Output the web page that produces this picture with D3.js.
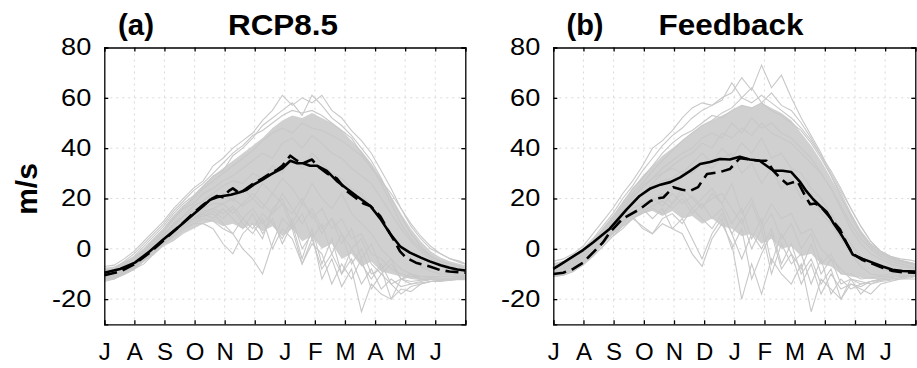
<!DOCTYPE html>
<html>
<head>
<meta charset="utf-8">
<script src="https://cdn.jsdelivr.net/npm/d3@7/dist/d3.min.js"></script>
<style>
  body { margin: 0; background: #fff; }
  svg { display: block; font-family: "Liberation Sans", Arial, Helvetica, sans-serif; }
</style>
</head>
<body>
<div id="chart"></div>
<script>
// x axis: days since 1 July, twelve equal "months"
const monthStarts = [0, 30.4, 60.8, 91.3, 121.7, 152.1, 182.5, 212.9, 243.3, 273.8, 304.2, 334.6, 365];
const monthLabels = ['J', 'A', 'S', 'O', 'N', 'D', 'J', 'F', 'M', 'A', 'M', 'J', ''];
const yTicks = [-20, 0, 20, 40, 60, 80];

// common day grid for the ensemble members
const gridDays = [0, 10, 20, 30, 40, 50, 60, 70, 80, 90, 100, 110, 120, 130, 140, 150, 160, 170, 180,
  190, 200, 210, 220, 230, 240, 250, 260, 270, 280, 290, 300, 310, 320, 330, 340, 350, 360, 365];

// ---- panel (a) RCP8.5 ----
const coreLowA = [-12.5, -12, -10.5, -8.5, -5, -2.5, 1, 3, 6, 8, 10, 11, 9, 10, 8, 10, 7, 9, 5,
  8, 3, 5, 0, 2, -4, -2, -7, -5, -9, -10, -11, -12, -12.5, -12.5, -12.5, -12.5, -12.5, -12.5];
const coreHighA = [-7.5, -7, -5, -3, 0, 4, 8, 13, 17, 21, 25, 29, 32, 35, 38, 41, 44, 48, 51,
  53, 52, 54, 52, 50, 47, 43, 39, 34, 28, 21, 14, 8, 3, -1, -3.5, -5, -6, -6.5];
const membersA = [
  [-7, -6.5, -4, -1, 3, 7, 11, 16, 20, 24, 27, 33, 36, 40, 43, 46, 51, 55, 61, 57, 60, 58, 61, 55, 52, 47, 43, 38, 31, 24, 16, 9, 4, 0, -2, -4, -5, -6],
  [-9, -8, -6, -3, 1, 5, 9, 14, 18, 21, 25, 29, 31, 37, 40, 44, 49, 52, 55, 58, 53, 61, 57, 52, 49, 45, 40, 35, 28, 20, 13, 6, 1, -3, -5, -6, -7, -8],
  [-13, -12, -10, -8, -5, -1, 2, 5, 8, 10, 12, 11, 8, 6, 0, -4, -10, 2, 12, 8, -6, 4, -8, -2, -10, -4, -14, -8, -16, -12, -15, -14, -13.5, -13, -13, -12.5, -12, -12],
  [-12, -11, -9, -7, -4, 0, 3, 6, 9, 11, 13, 14, 10, 6, 12, 8, 14, 10, 4, 12, 0, 6, -12, -4, -15, -8, -25, -14, -18, -20, -16, -17, -14, -13, -12.5, -12, -12, -12],
  [-11, -10, -9, -7, -3, 1, 4, 8, 11, 14, 16, 18, 18, 20, 17, 20, 16, 22, 18, 14, 20, 12, 16, 8, 12, 4, 6, -2, -4, -8, -10, -11, -11, -11.5, -11, -11, -11.5, -11.5],
  [-10, -9, -7, -5, -1, 3, 7, 12, 16, 18, 22, 24, 27, 29, 32, 35, 38, 36, 42, 44, 40, 45, 42, 38, 36, 32, 29, 26, 20, 14, 8, 3, -1, -4, -6, -7, -8, -8.5],
  [-11.5, -11, -9.5, -7.5, -4, 0, 4, 7, 10, 12, 15, 16, 14, 17, 12, 16, 10, 14, 18, 8, 14, 4, 10, -2, 6, -6, 0, -10, -8, -20, -12, -14, -13, -12, -12, -12, -11.5, -11.5],
  [-12.5, -12, -10, -8, -6, -2, 2, 5, 8, 10, 10, 8, 2, -2, 6, 10, 4, 16, 20, 10, 18, 14, 6, 12, 2, 8, -4, 2, -8, -4, -12, -10, -12, -12, -12, -12, -12, -12],
  [-8.5, -8, -5, -2, 2, 6, 10, 15, 19, 23, 26, 30, 34, 38, 41, 45, 47, 50, 53, 55, 54, 55, 53, 50, 47, 44, 38, 33, 26, 18, 10, 4, 0, -3, -5, -6, -7, -7.5],
  [-12, -11.5, -10, -8, -4, 0, 3, 7, 10, 12, 14, 12, 16, 12, 8, 14, 6, 12, 2, 10, -4, 8, -6, 4, -10, 0, -6, -12, -6, -14, -12, -13, -12.5, -12, -12, -12, -12, -12],
  [-11, -10.5, -8.5, -6, -2, 2, 6, 9, 13, 15, 18, 20, 22, 19, 24, 20, 26, 22, 28, 24, 18, 26, 20, 16, 22, 14, 10, 6, 0, -4, -8, -10, -11, -11, -11, -11, -11, -11],
  [-10.5, -10, -8, -5.5, -2, 2, 5, 10, 13, 17, 19, 22, 25, 27, 26, 30, 28, 33, 30, 36, 32, 38, 34, 30, 28, 24, 22, 16, 12, 6, 0, -4, -7, -9, -10, -10, -10.5, -10.5],
  [-12, -11.5, -10, -7.5, -4.5, -1, 2, 6, 9, 12, 13, 15, 12, 16, 10, 6, 12, 0, 8, 4, -6, 2, -2, -14, -6, -12, -4, -16, -10, -14, -18, -15, -14, -13, -12.5, -12.5, -12, -12],
  [-9, -8.5, -6.5, -4, 0, 4, 8, 13, 17, 20, 24, 27, 30, 33, 36, 39, 43, 46, 48, 46, 50, 48, 47, 45, 43, 40, 37, 32, 27, 22, 16, 10, 5, 1, -2, -4, -5.5, -6],
  [-12, -11, -9.5, -7, -3.5, 0, 3, 6, 9, 12, 14, 16, 18, 14, 18, 22, 18, 14, 22, 16, 10, 16, 8, 12, 6, 0, 4, -6, -10, -6, -12, -11, -12, -13, -12.5, -12, -12, -12]
];
const meanDaysA = [0, 16, 31, 46, 59, 76, 91, 100, 107, 114, 120, 128, 137, 144, 151, 160, 168, 175, 180, 188,
  195, 201, 208, 215, 225, 235, 245, 255, 262, 269, 279, 289, 299, 309, 320, 329, 340, 349, 357, 365];
const meanA = [-9.5, -8, -5.5, -1, 3.5, 9, 14, 17, 19.5, 20.5, 21, 21.5, 22.5, 23.5, 25.5, 27.5, 29.5, 31, 32, 35,
  34, 34, 33, 33, 31, 27, 24, 21, 19, 17, 12, 6, 1, -1.5, -3.5, -5, -6.5, -7.5, -8.2, -8.6];
const dashDaysA = [0, 16, 31, 46, 59, 76, 91, 100, 107, 114, 120, 126, 130, 137, 144, 151, 160, 168, 175, 180, 188,
  195, 201, 210, 215, 225, 235, 245, 255, 262, 269, 279, 286, 292, 299, 305, 315, 329, 340, 349, 365];
const dashA = [-10.5, -9, -6, -1.5, 3, 9, 14.5, 17.5, 19.5, 21, 20.5, 23, 24, 22, 24, 26, 28, 30, 31.5, 33, 37,
  35, 34, 35.5, 33, 30, 28, 23, 20, 18, 17, 13, 8, 4, -1, -3.5, -5.5, -7, -8.5, -9, -9.5];

// ---- panel (b) Feedback ----
const coreLowB = [-11, -10, -8, -5.5, -2, 2, 6, 9, 12, 14, 15, 13, 15, 12, 13, 10, 12, 9, 8,
  5, 6, 2, 4, 0, 1, -3, -2, -6, -7, -10, -11, -11.5, -12, -12, -11.5, -11, -11, -11];
const coreHighB = [-6, -5, -3, 0, 4, 8, 13, 19, 24, 29, 33, 37, 40, 43, 46, 49, 51, 53, 55,
  57, 56, 58, 56, 54, 51, 46, 41, 35, 28, 21, 14, 7, 2, -1, -3, -4.5, -5.5, -6];
const membersB = [
  [-5, -4, -2, 1, 6, 11, 16, 22, 27, 33, 40, 43, 47, 52, 56, 58, 57, 60, 62, 68, 63, 73, 64, 69, 60, 52, 45, 38, 30, 23, 16, 9, 3, -1, -3, -4, -4.5, -5],
  [-6, -5, -3, 0, 4, 9, 14, 20, 25, 31, 36, 41, 45, 48, 52, 55, 57, 59, 66, 60, 64, 58, 62, 57, 55, 50, 44, 37, 29, 21, 13, 6, 1, -2, -4, -5, -5.5, -6],
  [-11, -10, -8.5, -6, -2, 2, 6, 9, 12, 9, 6, 10, 8, 6, -2, -7, 4, 10, 2, -20, -6, -18, -4, -10, -14, -6, -25, -12, -16, -20, -14, -16, -18, -14, -13, -12, -12, -12],
  [-10.5, -9.5, -8, -5, -1, 3, 7, 11, 13, 8, 6, 12, 14, 10, 16, 12, 8, 14, 6, -4, 6, 0, 8, -6, 2, -10, -4, -14, -8, -20, -12, -18, -14, -13, -12.5, -12, -11.5, -11],
  [-10, -9, -7, -4, 0, 4, 8, 12, 16, 18, 20, 17, 22, 18, 21, 17, 20, 22, 16, 10, 18, 8, 14, 4, 10, 0, 6, -6, -2, -10, -10, -12, -11.5, -11, -11, -10.5, -10.5, -10.5],
  [-8, -7, -5, -2, 2, 6, 11, 16, 21, 24, 28, 30, 33, 36, 38, 42, 40, 46, 44, 48, 45, 50, 46, 44, 42, 38, 34, 30, 24, 17, 10, 4, 0, -3, -5, -6, -7, -7.5],
  [-11, -10.5, -9, -6.5, -3, 1, 5, 9, 12, 15, 17, 19, 16, 20, 14, 18, 12, 16, 6, 12, 0, 8, -10, 2, -6, -2, -14, -4, -18, -12, -16, -14, -13, -12, -12, -11.5, -11, -11],
  [-9, -8, -6, -3, 1, 5, 9, 13, 18, 22, 25, 27, 28, 31, 30, 34, 32, 36, 38, 30, 34, 26, 32, 24, 28, 20, 22, 14, 10, 4, -2, -7, -10, -10.5, -10, -9.5, -9.5, -9.5],
  [-7, -6, -4, -1, 3, 8, 13, 18, 24, 28, 33, 38, 42, 45, 47, 50, 53, 52, 55, 57, 56, 58, 55, 53, 50, 47, 42, 36, 29, 22, 14, 7, 2, -1, -3.5, -5, -6, -6.5],
  [-11, -10, -8, -5, -1, 3, 7, 11, 14, 17, 19, 22, 18, 24, 20, 16, 22, 18, 10, 16, 4, 12, -6, 6, -2, -8, 2, -10, -4, -14, -12, -14, -13, -12, -11.5, -11, -11, -11],
  [-9.5, -8.5, -6.5, -3.5, 0, 4, 9, 14, 19, 22, 26, 30, 32, 30, 34, 38, 34, 40, 36, 42, 38, 44, 36, 38, 32, 30, 24, 20, 14, 8, 2, -3, -6, -8, -9, -9, -9.5, -9.5],
  [-7.5, -6.5, -4.5, -1.5, 2.5, 7, 12, 17, 22, 26, 31, 35, 39, 43, 46, 49, 51, 54, 56, 60, 58, 61, 58, 55, 52, 48, 43, 37, 31, 24, 16, 9, 3, -1, -3, -4.5, -5.5, -6],
  [-10.5, -10, -8, -5.5, -2, 2, 6, 10, 14, 16, 12, 16, 8, 12, 4, -4, 6, 12, 0, 8, -12, -2, 6, -8, -2, -14, -6, -18, -10, -16, -14, -15, -13, -12.5, -12, -11.5, -11, -11],
  [-8.5, -7.5, -5.5, -2.5, 1.5, 6, 10, 15, 20, 25, 28, 32, 35, 38, 40, 44, 46, 44, 50, 46, 52, 48, 50, 46, 44, 40, 36, 30, 24, 16, 8, 2, -2, -4, -6, -7, -7.5, -8],
  [-11, -10.5, -9, -6, -2.5, 1, 5, 8, 12, 14, 16, 14, 18, 22, 16, 20, 24, 18, 26, 14, 20, 10, 18, 12, 14, 6, 8, 0, -4, -8, -12, -13, -14, -12.5, -12, -11.5, -11, -11]
];
const meanDaysB = [0, 7, 20, 30, 40, 57, 74, 87, 98, 108, 118, 128, 138, 148, 158, 168, 178, 188, 198, 208,
  215, 222, 231, 240, 249, 255, 262, 269, 276, 282, 289, 296, 302, 312, 322, 332, 342, 352, 365];
const meanB = [-8, -6.3, -3, -0.5, 2.5, 8, 15.7, 21, 24, 25.5, 26.5, 28.4, 31, 33.7, 34.5, 35.7, 35.5, 36.6, 35.5, 35,
  33, 31, 31, 30.5, 26.5, 23, 19.7, 17, 14.5, 10.5, 6.5, 2, -2.3, -4, -5.5, -7, -8.3, -8.8, -9];
const dashDaysB = [0, 10, 20, 30, 40, 50, 57, 70, 87, 98, 104, 111, 121, 130, 138, 146, 150, 155, 168, 178, 188,
  198, 208, 215, 222, 229, 236, 246, 250, 254, 259, 264, 269, 279, 284, 289, 296, 302, 312, 322, 332, 342, 352, 365];
const dashB = [-10, -9.5, -8, -5.5, -1.5, 2.5, 6.5, 12, 15.7, 19, 20, 20.4, 24.5, 23.5, 23, 24.5, 27, 29.7, 30.5, 31.7, 36,
  35.5, 35, 35, 31, 28, 25.7, 27, 24, 21, 17.7, 18, 17, 12.5, 10, 7.7, 2, -2, -4.5, -6, -7.5, -8.8, -9.3, -9.5];

const width = 917, height = 368;
const svg = d3.select('#chart').append('svg').attr('width', width).attr('height', height);

// the original figure uses a slightly wider face than Liberation Sans
function stretch(sel, k) {
  sel.each(function () {
    const len = this.getComputedTextLength();
    d3.select(this).attr('textLength', len * k).attr('lengthAdjust', 'spacingAndGlyphs');
  });
}

function drawPanel(p) {
  const x = d3.scaleLinear().domain([0, 365]).range([p.left, p.right]);
  const y = d3.scaleLinear().domain([-30, 80]).range([324.3, 47.5]);
  const g = svg.append('g');

  // dotted grid
  g.append('g').selectAll('line').data(monthStarts.slice(1, -1)).join('line')
    .attr('x1', d => x(d)).attr('x2', d => x(d))
    .attr('y1', y(80)).attr('y2', y(-30))
    .attr('stroke', '#d8d8d8').attr('stroke-width', 1).attr('stroke-dasharray', '2,4');
  g.append('g').selectAll('line').data(yTicks.slice(0, -1)).join('line')
    .attr('x1', x(0)).attr('x2', x(365))
    .attr('y1', d => y(d)).attr('y2', d => y(d))
    .attr('stroke', '#d8d8d8').attr('stroke-width', 1).attr('stroke-dasharray', '2,4');

  // ensemble spread
  const area = d3.area().x((d, i) => x(gridDays[i])).y0(d => y(d[0])).y1(d => y(d[1]));
  g.append('path')
    .datum(p.coreLow.map((v, i) => [v, p.coreHigh[i]]))
    .attr('fill', '#d0d0d0').attr('d', area);

  const line = d3.line().x(d => x(d[0])).y(d => y(d[1]));
  g.append('g').selectAll('path').data(p.members).join('path')
    .attr('d', m => line(m.map((v, i) => [gridDays[i], v])))
    .attr('fill', 'none').attr('stroke', '#c8c8c8').attr('stroke-width', 1.1);

  // mean and dashed curves
  g.append('path')
    .attr('d', line(p.meanDays.map((d, i) => [d, p.mean[i]])))
    .attr('fill', 'none').attr('stroke', '#000').attr('stroke-width', 2.6)
    .attr('stroke-linejoin', 'round');
  g.append('path')
    .attr('d', line(p.dashDays.map((d, i) => [d, p.dash[i]])))
    .attr('fill', 'none').attr('stroke', '#000').attr('stroke-width', 2.6)
    .attr('stroke-dasharray', '13,6').attr('stroke-linejoin', 'round');

  // axes with inward ticks on all sides
  const xb = g.append('g').attr('transform', `translate(0,${y(-30)})`)
    .call(d3.axisBottom(x).tickValues(monthStarts).tickSize(-4).tickPadding(19)
      .tickFormat((d, i) => monthLabels[i]));
  const xt = g.append('g').attr('transform', `translate(0,${y(80)})`)
    .call(d3.axisTop(x).tickValues(monthStarts).tickSize(-4).tickFormat(''));
  const yl = g.append('g').attr('transform', `translate(${x(0)},0)`)
    .call(d3.axisLeft(y).tickValues(yTicks).tickSize(-4).tickPadding(13)
      .tickFormat(d => String(d)));
  const yr = g.append('g').attr('transform', `translate(${x(365)},0)`)
    .call(d3.axisRight(y).tickValues(yTicks).tickSize(-4).tickFormat(''));
  [xb, xt, yl, yr].forEach(a => {
    a.attr('font-family', null);
    a.select('.domain').attr('stroke', '#000').attr('stroke-width', 1.3);
    a.selectAll('.tick line').attr('stroke', '#000').attr('stroke-width', 1.3);
  });
  xb.selectAll('text').attr('font-size', 24).attr('fill', '#000');
  yl.selectAll('text').attr('font-size', 23).attr('fill', '#000').call(stretch, 1.18);

  // titles
  svg.append('text').attr('x', p.tagX).attr('y', 35)
    .attr('font-size', 30).attr('font-weight', 'bold')
    .attr('textLength', p.tagW).attr('lengthAdjust', 'spacingAndGlyphs').text(p.tag);
  svg.append('text').attr('x', p.titleX).attr('y', 35).attr('text-anchor', 'middle')
    .attr('font-size', 30).attr('font-weight', 'bold')
    .attr('textLength', p.titleW).attr('lengthAdjust', 'spacingAndGlyphs').text(p.title);
}

drawPanel({ left: 104.3, right: 465.3, coreLow: coreLowA, coreHigh: coreHighA, members: membersA,
  meanDays: meanDaysA, mean: meanA, dashDays: dashDaysA, dash: dashA,
  tag: '(a)', tagX: 118, tagW: 36, title: 'RCP8.5', titleX: 283, titleW: 110 });
drawPanel({ left: 553.3, right: 915.3, coreLow: coreLowB, coreHigh: coreHighB, members: membersB,
  meanDays: meanDaysB, mean: meanB, dashDays: dashDaysB, dash: dashB,
  tag: '(b)', tagX: 566.5, tagW: 37, title: 'Feedback', titleX: 731, titleW: 145 });

svg.append('text')
  .attr('transform', 'translate(37,189) rotate(-90)')
  .attr('text-anchor', 'middle')
  .attr('font-size', 30).attr('font-weight', 'bold')
  .text('m/s');
</script>
</body>
</html>
